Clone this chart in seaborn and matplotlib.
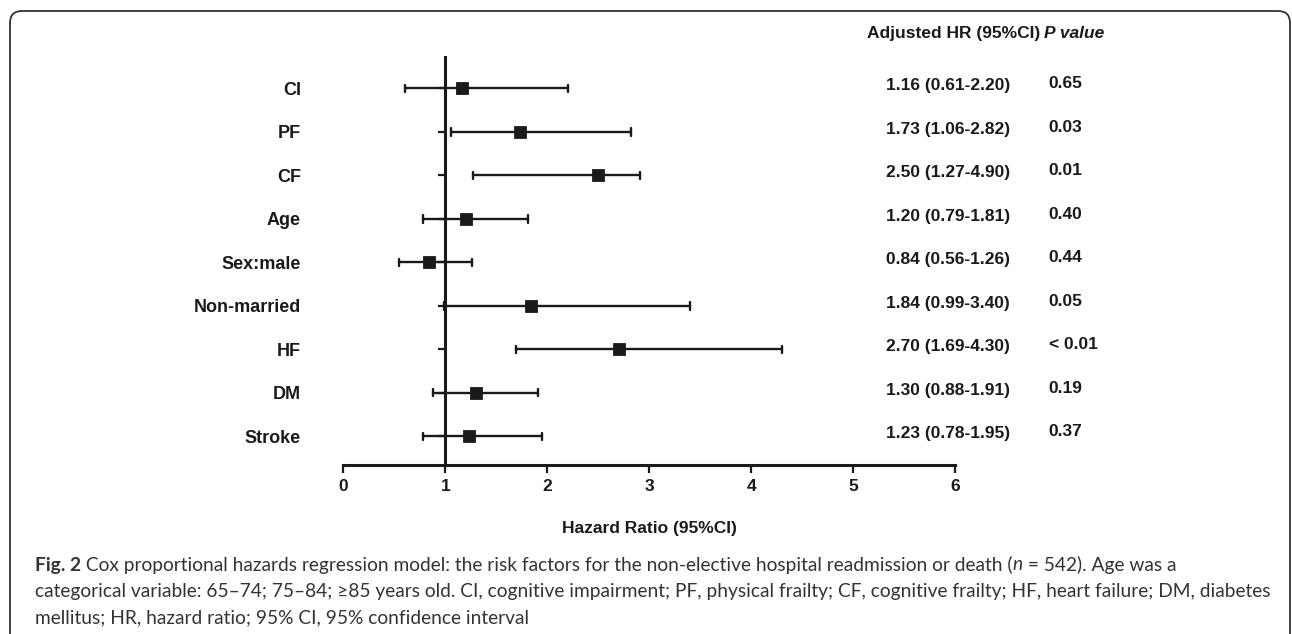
import matplotlib
matplotlib.use("Agg")
import pandas as pd
import matplotlib.pyplot as plt
from matplotlib.patches import FancyBboxPatch
from matplotlib.transforms import IdentityTransform
import seaborn as sns

# Forest plot data
factors = ["CI", "PF", "CF", "Age", "Sex:male", "Non-married", "HF", "DM", "Stroke"]
hr_point = [1.16, 1.73, 2.50, 1.20, 0.84, 1.84, 2.70, 1.30, 1.23]
ci_low = [0.61, 1.06, 1.27, 0.78, 0.55, 0.99, 1.69, 0.88, 0.78]
ci_high = [2.20, 2.82, 2.91, 1.81, 1.26, 3.40, 4.30, 1.91, 1.95]  # CF whisker as drawn
hr_text = ["1.16 (0.61-2.20)", "1.73 (1.06-2.82)", "2.50 (1.27-4.90)",
           "1.20 (0.79-1.81)", "0.84 (0.56-1.26)", "1.84 (0.99-3.40)",
           "2.70 (1.69-4.30)", "1.30 (0.88-1.91)", "1.23 (0.78-1.95)"]
p_text = ["0.65", "0.03", "0.01", "0.40", "0.44", "0.05", "< 0.01", "0.19", "0.37"]
x_ticks = [0, 1, 2, 3, 4, 5, 6]

caption_lines = [
    [("Fig. 2", "bold", "normal"),
     (" Cox proportional hazards regression model: the risk factors for the non-elective hospital readmission or death (", "normal", "normal"),
     ("n", "normal", "italic"),
     (" = 542). Age was a", "normal", "normal")],
    [("categorical variable: 65\u201374; 75\u201384; \u226585 years old. CI, cognitive impairment; PF, physical frailty; CF, cognitive frailty; HF, heart failure; DM, diabetes", "normal", "normal")],
    [("mellitus; HR, hazard ratio; 95% CI, 95% confidence interval", "normal", "normal")],
]

sns.set_theme(style="ticks")
plt.rcParams["font.family"] = ["Liberation Sans", "DejaVu Sans"]
INK = "#1a1a1a"

# long table: lower / point / upper per factor -> median is the HR, min/max the CI
rows = []
for f, lo, hr, hi in zip(factors, ci_low, hr_point, ci_high):
    for v in (lo, hr, hi):
        rows.append({"factor": f, "value": v})
df = pd.DataFrame(rows)

W, H = 1292, 634
fig = plt.figure(figsize=(W / 100, H / 100), dpi=100)
ax = fig.add_axes([343.3 / W, 1 - 465 / H, (955 - 343.3) / W, (465 - 56.7) / H])

sns.pointplot(
    data=df, x="value", y="factor", order=factors,
    estimator="median", errorbar=lambda v: (v.min(), v.max()),
    color=INK, marker="s", markersize=7, linestyle="none",
    capsize=0.17, err_kws={"linewidth": 1.7}, ax=ax,
)

ax.set_xlim(0, 6)
ax.set_ylim(8.66, -0.727)
ax.spines[["top", "right"]].set_visible(False)
ax.spines["left"].set_position(("data", 1))
for s in ("left", "bottom"):
    ax.spines[s].set_linewidth(2.2)
    ax.spines[s].set_color(INK)
ax.set_xticks(x_ticks)
ax.tick_params(axis="x", length=5.4, width=1.6, pad=5, labelsize=12.5, colors=INK)
ax.tick_params(axis="y", length=5, width=1.6, pad=99, labelsize=13, colors=INK)
plt.setp(ax.get_xticklabels(), fontweight="bold")
plt.setp(ax.get_yticklabels(), fontweight="bold")
ax.set_ylabel("")
ax.set_xlabel("Hazard Ratio (95%CI)", fontsize=12.5, fontweight="bold", color=INK, va="center")
ax.xaxis.set_label_coords(0.5, -(529 - 465) / (465 - 56.7))

# text columns
ax.text(5.14, -1.27, "Adjusted HR (95%CI)", fontsize=12.5, fontweight="bold",
        color=INK, va="center", ha="left", clip_on=False)
ax.text(6.87, -1.27, "P value", fontsize=12.5, fontweight="bold", style="italic",
        color=INK, va="center", ha="left", clip_on=False)
for i, (h, p) in enumerate(zip(hr_text, p_text)):
    ax.text(5.32, i - 0.06, h, fontsize=12.5, fontweight="bold", color=INK,
            va="center", ha="left", clip_on=False)
    ax.text(6.92, i - 0.1, p, fontsize=12.5, fontweight="bold", color=INK,
            va="center", ha="left", clip_on=False)

# rounded frame around the figure panel
frame = FancyBboxPatch((10, -40), 1280, 634 - 11 + 40,
                       boxstyle="round,pad=0,rounding_size=12",
                       transform=IdentityTransform(), fill=False,
                       edgecolor="#333333", linewidth=1.3)
fig.add_artist(frame)

# caption, built run by run
renderer = fig.canvas.get_renderer()
cap_font = ["Lato", "DejaVu Sans"]
for k, line in enumerate(caption_lines):
    x = 35
    y = H - (565 + 26.5 * k)
    for txt, weight, style in line:
        t = fig.text(x, y, txt, transform=IdentityTransform(), family=cap_font,
                     fontsize=13.8, fontweight=weight, style=style, color="#333333",
                     va="center", ha="left")
        x = t.get_window_extent(renderer).x1

fig.savefig("out.png", dpi=100)
